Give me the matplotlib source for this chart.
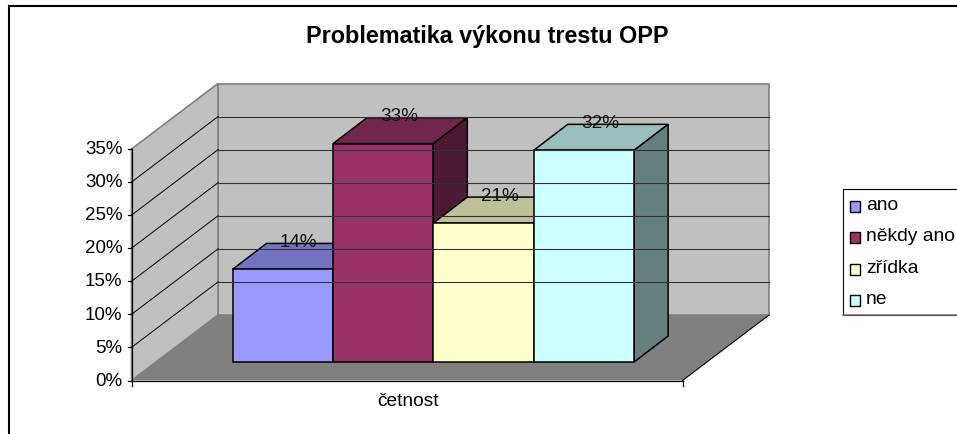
import matplotlib
matplotlib.use('Agg')
import matplotlib.pyplot as plt
from matplotlib.patches import Polygon, Rectangle

categories = ['ano', 'někdy ano', 'zřídka', 'ne']
values = [14, 33, 21, 32]
value_labels = ['14%', '33%', '21%', '32%']
y_ticks = [0, 5, 10, 15, 20, 25, 30, 35]
front_colors = ['#9999FF', '#993366', '#FFFFCC', '#CCFFFF']
top_colors = ['#7373BF', '#73264D', '#BFBF99', '#99BFBF']
side_colors = ['#4D4D80', '#4D1A33', '#808066', '#668080']

plt.rcParams['font.family'] = ['Liberation Sans', 'DejaVu Sans']

fig = plt.figure(figsize=(9.57, 4.34), dpi=100)
ax = fig.add_axes([0, 0, 1, 1])
ax.set_xlim(0, 957)
ax.set_ylim(434, 0)
ax.axis('off')

# rámeček grafu
ax.add_patch(Rectangle((8.5, 6), 960, 440, fc='white', ec='black', lw=1.5))

# 3D geometrie v pixelech
x0, y0 = 131.5, 380.5
dx, dy = 86.5, -65.5
wall_w = 551
per_pct = 231.5 / 35

def py(v):
    return y0 - v * per_pct

# stěny a podlaha
ax.add_patch(Polygon([(x0 + dx, py(35) + dy), (x0 + dx + wall_w, py(35) + dy),
                      (x0 + dx + wall_w, y0 + dy), (x0 + dx, y0 + dy)],
                     fc='#C0C0C0', ec='#808080', lw=1.2))
ax.add_patch(Polygon([(x0, py(35)), (x0 + dx, py(35) + dy), (x0 + dx, y0 + dy), (x0, y0)],
                     fc='#C0C0C0', ec='#808080', lw=1.2))
ax.add_patch(Polygon([(x0, y0), (x0 + wall_w, y0), (x0 + wall_w + dx, y0 + dy), (x0 + dx, y0 + dy)],
                     fc='#808080', ec='none'))
for t in y_ticks[1:-1]:
    ax.plot([x0, x0 + dx], [py(t), py(t) + dy], color='black', lw=0.7)
    ax.plot([x0 + dx, x0 + dx + wall_w], [py(t) + dy, py(t) + dy], color='#333333', lw=0.8)

# osy
ax.plot([x0, x0], [py(35), y0], color='black', lw=0.9)
ax.plot([x0, x0 + wall_w], [y0, y0], color='black', lw=0.9)
ax.plot([x0 + wall_w, x0 + wall_w + dx], [y0, y0 + dy], color='black', lw=0.8)
ax.plot([x0 + wall_w, x0 + wall_w], [y0, y0 + 5], color='black', lw=0.9)
ax.plot([x0, x0], [y0, y0 + 5], color='black', lw=0.9)
for t in y_ticks:
    ax.plot([x0 - 4, x0], [py(t), py(t)], color='black', lw=0.9)
    ax.text(x0 - 9, py(t) + 0.7, f'{t}%', ha='right', va='center', fontsize=13.5, color='black')

# sloupce
bar_left = 232.5
bar_w = 100.4
base = 362
bdx, bdy = 34, -26
for i, v in enumerate(values):
    xl = bar_left + i * bar_w
    xr = xl + bar_w
    top = base - v * per_pct
    ax.add_patch(Polygon([(xl, top), (xl + bdx, top + bdy), (xr + bdx, top + bdy), (xr, top)],
                         fc=top_colors[i], ec='black', lw=1.1, joinstyle='miter'))
    ax.add_patch(Polygon([(xr, base), (xr + bdx, base + bdy), (xr + bdx, top + bdy), (xr, top)],
                         fc=side_colors[i], ec='black', lw=1.1, joinstyle='miter'))
    ax.add_patch(Rectangle((xl, top), bar_w, base - top, fc=front_colors[i], ec='black', lw=1.1))
for i, v in enumerate(values):
    xl = bar_left + i * bar_w
    ax.text(xl + bar_w / 2 + 16, base - v * per_pct + bdy - 1, value_labels[i],
            ha='center', va='center', fontsize=13.6, color='#111111')

ax.text(487, 37, 'Problematika výkonu trestu OPP', ha='center', va='center',
        fontsize=16.8, fontweight='bold', color='black')
ax.text(408, 401, 'četnost', ha='center', va='center', fontsize=13.8, color='black')

# legenda
ax.add_patch(Rectangle((842.5, 188.5), 130, 126, fc='white', ec='black', lw=0.8))
ax.plot([842.5, 957], [314.5, 314.5], color='#707070', lw=1.1)
leg_y = [206.5, 237.5, 269.5, 300.5]
for i, name in enumerate(categories):
    ax.add_patch(Rectangle((849.5, leg_y[i] - 5.5), 10.5, 11, fc=front_colors[i], ec='black', lw=1))
    ax.text(866, leg_y[i] - 1, name, ha='left', va='center', fontsize=13.9, color='black')

fig.savefig('out.png', dpi=100)
